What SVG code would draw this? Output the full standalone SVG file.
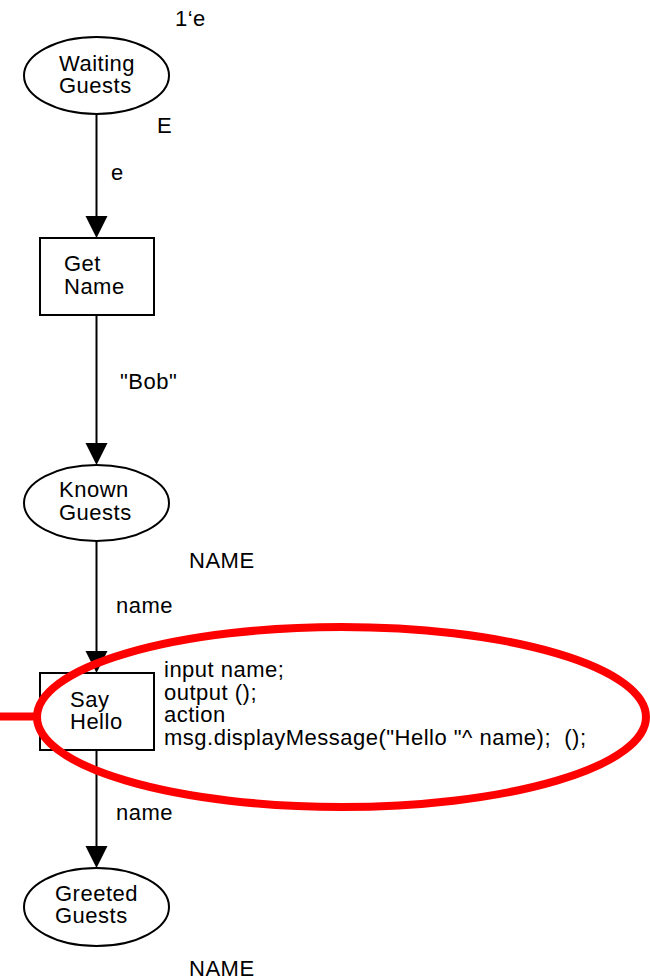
<svg xmlns="http://www.w3.org/2000/svg" width="650" height="980" viewBox="0 0 650 980">
  <style>
    text { font-family: "Liberation Sans", Arial, Helvetica, sans-serif; font-size: 22px; letter-spacing: 0.5px; fill: #000; white-space: pre; }
    .place { fill: #fff; stroke: #000; stroke-width: 2; }
    .trans { fill: #fff; stroke: #000; stroke-width: 2; }
    .arc { stroke: #000; stroke-width: 2; fill: none; }
    .head { fill: #000; stroke: none; }
    .mark { fill: none; stroke: #ff0000; stroke-width: 8; }
  </style>

  <rect x="0" y="0" width="650" height="980" fill="#fff"/>

  <!-- arcs -->
  <g id="arcs">
    <line class="arc" x1="96.5" y1="114" x2="96.5" y2="222"/>
    <polygon class="head" points="85.5,216 107.5,216 96.5,238"/>
    <text x="111" y="180">e</text>

    <line class="arc" x1="96.5" y1="315" x2="96.5" y2="449"/>
    <polygon class="head" points="85.5,443 107.5,443 96.5,465"/>
    <text x="120" y="389">"Bob"</text>

    <line class="arc" x1="96.5" y1="541" x2="96.5" y2="657"/>
    <polygon class="head" points="85.5,651 107.5,651 96.5,673"/>
    <text x="116" y="613">name</text>

    <line class="arc" x1="96.5" y1="750" x2="96.5" y2="852"/>
    <polygon class="head" points="85.5,846 107.5,846 96.5,868"/>
    <text x="116" y="820">name</text>
  </g>

  <!-- places -->
  <g id="waiting-guests">
    <ellipse class="place" cx="96.5" cy="75.5" rx="72.5" ry="38.5"/>
    <text x="59" y="71">Waiting</text>
    <text x="59" y="92.5">Guests</text>
    <text x="175" y="25.5">1‘e</text>
    <text x="157" y="133">E</text>
  </g>

  <g id="known-guests">
    <ellipse class="place" cx="96.5" cy="503" rx="72.5" ry="38"/>
    <text x="59" y="497">Known</text>
    <text x="59" y="520">Guests</text>
    <text x="189" y="568">NAME</text>
  </g>

  <g id="greeted-guests">
    <ellipse class="place" cx="96.5" cy="907" rx="72.5" ry="39"/>
    <text x="55" y="901">Greeted</text>
    <text x="55" y="923">Guests</text>
    <text x="189" y="976">NAME</text>
  </g>

  <!-- transitions -->
  <g id="get-name">
    <rect class="trans" x="40" y="238" width="114" height="77"/>
    <text x="64" y="271">Get</text>
    <text x="64" y="293.5">Name</text>
  </g>

  <g id="say-hello">
    <rect class="trans" x="40" y="673" width="114" height="77"/>
    <text x="70" y="707">Say</text>
    <text x="70" y="728.5">Hello</text>
    <text x="164" y="677">input name;</text>
    <text x="164" y="699.5">output ();</text>
    <text x="164" y="722">action</text>
    <text x="164" y="745" xml:space="preserve">msg.displayMessage("Hello "^ name);  ();</text>
  </g>

  <!-- red highlight around the code segment -->
  <g id="highlight">
    <line class="mark" x1="-10" y1="716.5" x2="37" y2="716.5"/>
    <ellipse class="mark" cx="341.5" cy="717" rx="304.5" ry="90"/>
  </g>
</svg>
